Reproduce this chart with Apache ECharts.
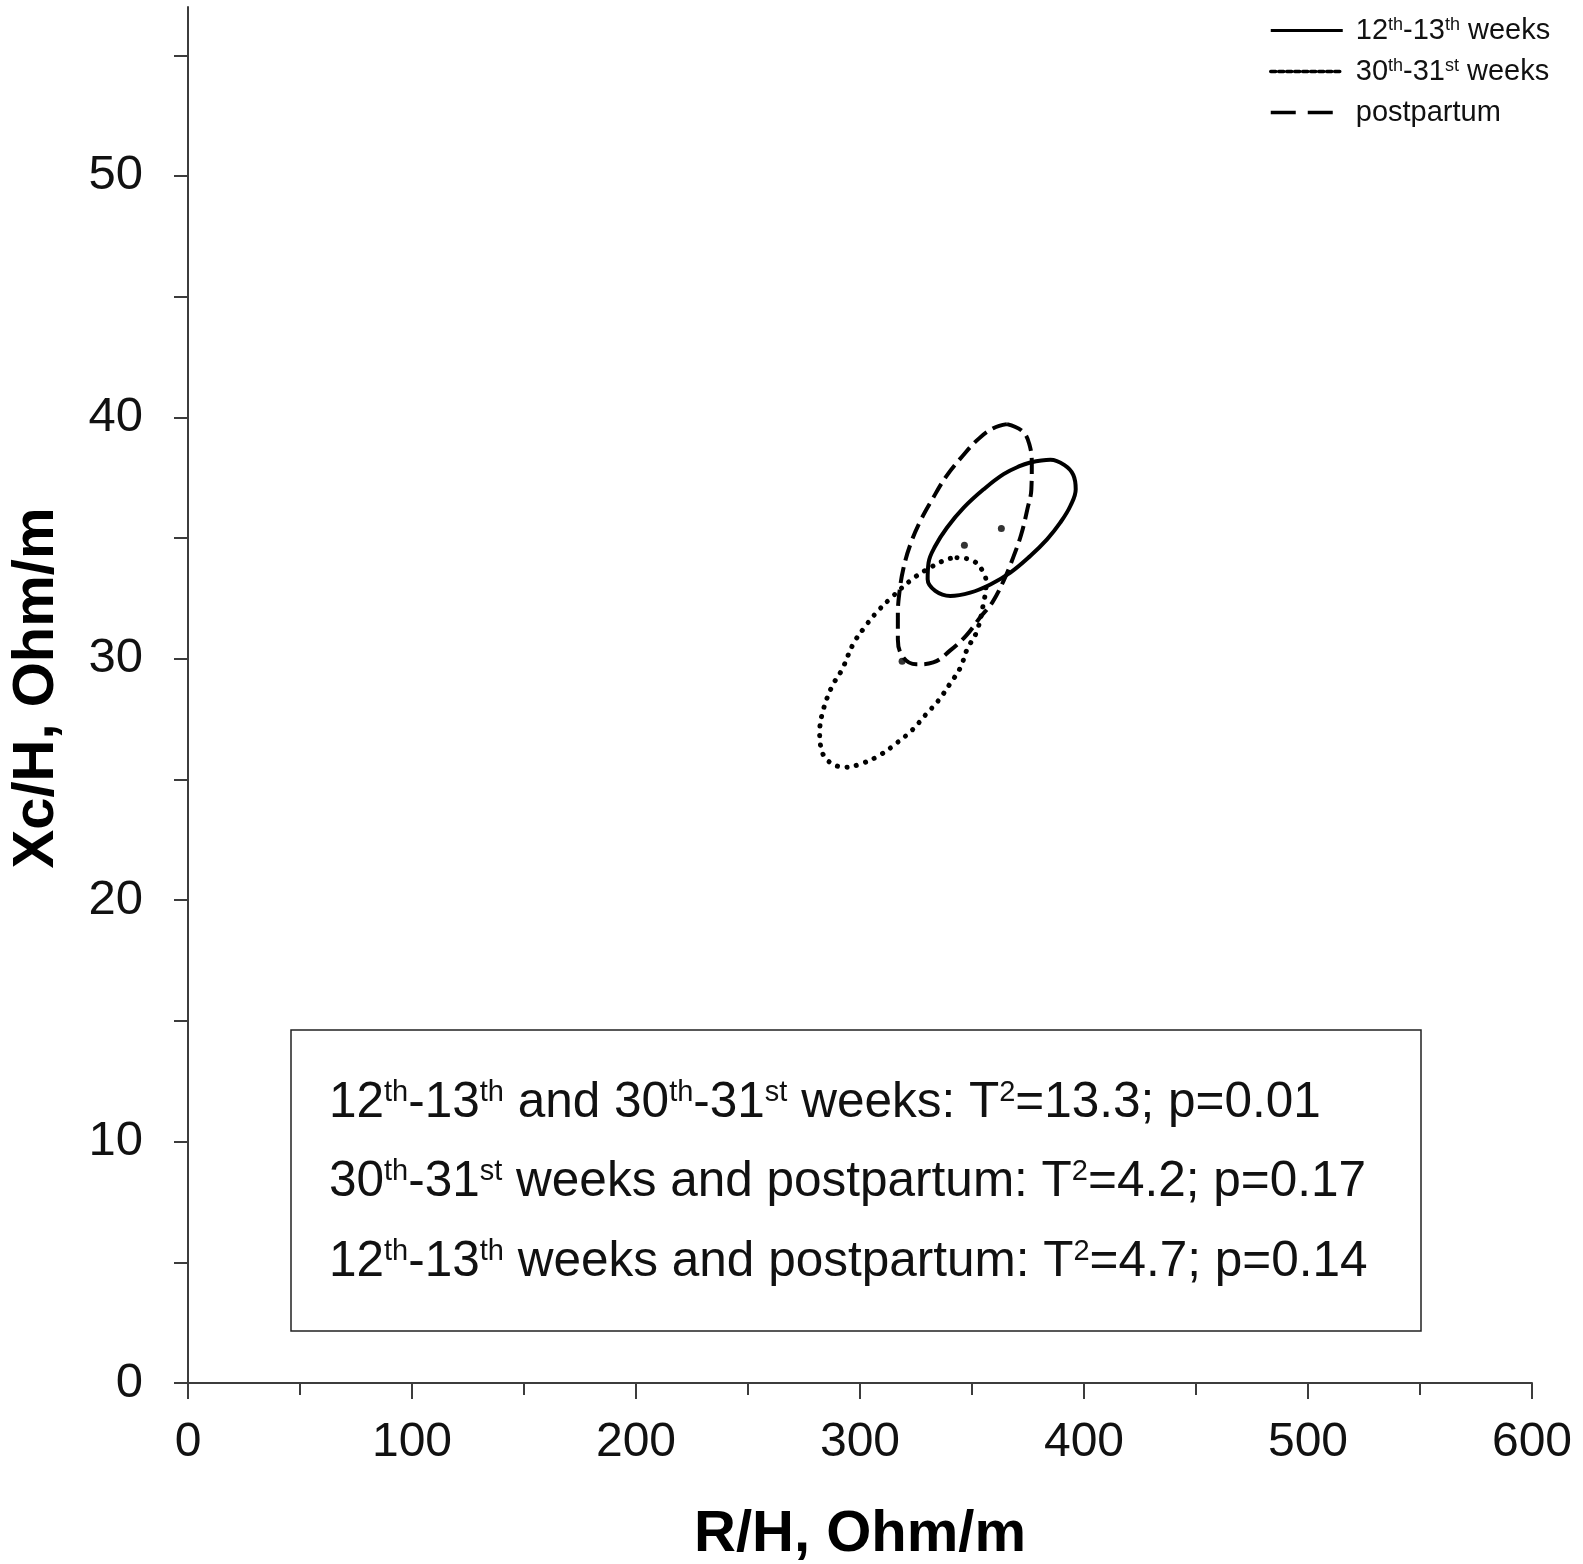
<!DOCTYPE html>
<html>
<head>
<meta charset="utf-8">
<title>R/H vs Xc/H confidence ellipses</title>
<script src="https://cdn.jsdelivr.net/npm/echarts@6/dist/echarts.min.js"></script>
<style>
  html, body { margin: 0; padding: 0; background: #fff; }
  #main { width: 1583px; height: 1564px; }
</style>
</head>
<body>
<div id="main"></div>
<script>
// ellipse outlines, [R/H, Xc/H]
var week12 = [
  [376.0, 38.13], [385.0, 38.24], [391.3, 38.02], [395.2, 37.62], [396.3, 37.02],
  [393.9, 36.33], [389.4, 35.64], [383.5, 34.95], [376.0, 34.26], [367.1, 33.57],
  [358.2, 33.08], [349.2, 32.74], [340.3, 32.60], [333.6, 32.81], [330.2, 33.29],
  [330.6, 33.98], [333.6, 34.67], [338.8, 35.43], [346.3, 36.26], [355.2, 37.02],
  [364.1, 37.65], [371.5, 37.99]
];
var week30 = [
  [343.3, 34.19], [350.7, 34.05], [355.5, 33.50], [356.3, 33.08], [355.2, 32.33],
  [352.2, 31.15], [347.8, 30.39], [344.8, 29.63], [340.0, 28.94], [335.1, 28.28],
  [329.2, 27.67], [323.2, 27.04], [316.5, 26.52], [309.4, 26.04], [301.6, 25.69],
  [293.4, 25.51], [285.5, 25.79], [282.3, 26.45], [282.0, 26.87], [283.0, 27.67],
  [287.2, 28.80], [292.0, 29.56], [296.9, 30.60], [301.6, 31.25], [307.3, 31.91],
  [313.5, 32.49], [323.2, 33.29], [330.6, 33.74], [338.8, 34.12]
];
var postpartum = [
  [365.6, 39.72], [372.5, 39.43], [375.6, 38.89], [376.7, 38.06], [376.5, 37.02],
  [374.7, 36.19], [372.0, 35.16], [368.4, 34.20], [364.0, 33.21], [359.1, 32.34],
  [353.7, 31.72], [347.5, 30.97], [340.3, 30.35], [332.7, 29.85], [325.1, 29.77],
  [319.3, 30.06], [316.9, 30.80], [316.9, 31.84], [317.5, 32.67], [319.3, 33.71],
  [322.5, 34.74], [326.9, 35.70], [332.3, 36.61], [338.5, 37.56], [345.7, 38.39],
  [352.8, 39.10], [359.5, 39.55]
];
// centroids of the three groups
var centres = [[363.1, 35.4], [346.6, 34.7], [318.8, 29.9]];

var seriesNames = ['12th-13th weeks', '30th-31st weeks', 'postpartum'];
var legendLabels = ['12{sup|th}-13{sup|th} weeks', '30{sup|th}-31{sup|st} weeks', 'postpartum'];
var xTickLabels = [0, 100, 200, 300, 400, 500, 600];
var yTicks = [0, 5, 10, 15, 20, 25, 30, 35, 40, 45, 50, 55];
var yTickLabels = [0, 10, 20, 30, 40, 50];
var statLines = [
  '12{sup|th}-13{sup|th} and 30{sup|th}-31{sup|st} weeks: T{sup|2}=13.3; p=0.01',
  '30{sup|th}-31{sup|st} weeks and postpartum: T{sup|2}=4.2; p=0.17',
  '12{sup|th}-13{sup|th} weeks and postpartum: T{sup|2}=4.7; p=0.14'
];

var FONT = '"Liberation Sans", Arial, sans-serif';
var AXIS = '#3c3c3c';

function loop(pts) { return pts.concat([pts[0]]); }

var chart = echarts.init(document.getElementById('main'));

var statText = statLines.map(function (t, i) {
  return {
    type: 'text',
    x: 329,
    y: 1103 + i * 79.5,
    style: {
      text: t,
      fill: '#111',
      fontSize: 49.5,
      fontFamily: FONT,
      verticalAlign: 'middle',
      align: 'left',
      rich: { sup: { fontSize: 29, fontFamily: FONT, verticalAlign: 'top', fill: '#111' } }
    }
  };
});

var option = {
  animation: false,
  backgroundColor: '#fff',
  grid: { left: 188, right: 51, top: 7, bottom: 181, outerBoundsMode: 'none', containLabel: false },
  legend: {
    orient: 'vertical',
    left: 1269,
    top: 16,
    padding: 0,
    itemWidth: 72,
    itemHeight: 28,
    itemGap: 12,
    align: 'left',
    itemStyle: { opacity: 0 },
    data: [
      { name: seriesNames[0], lineStyle: { width: 3, type: 'solid', color: '#000' } },
      { name: seriesNames[1], lineStyle: { width: 3.5, type: [5, 3], color: '#000' } },
      { name: seriesNames[2], lineStyle: { width: 3.5, type: [25, 12], color: '#000' } }
    ],
    formatter: function (name) { return legendLabels[seriesNames.indexOf(name)]; },
    textStyle: {
      fontSize: 29,
      fontFamily: FONT,
      color: '#111',
      padding: [0, 0, 0, 8],
      rich: { sup: { fontSize: 18, fontFamily: FONT, color: '#111', verticalAlign: 'top' } }
    }
  },
  xAxis: {
    type: 'value',
    min: 0,
    max: 600,
    interval: 100,
    name: 'R/H, Ohm/m',
    nameLocation: 'middle',
    nameGap: 123,
    nameTextStyle: { fontSize: 58, fontWeight: 'bold', fontFamily: FONT, color: '#000' },
    axisLine: { show: true, lineStyle: { color: AXIS, width: 2 } },
    axisTick: { show: true, length: 16, lineStyle: { color: AXIS, width: 2 } },
    minorTick: { show: true, splitNumber: 2, length: 12, lineStyle: { color: AXIS, width: 2 } },
    axisLabel: { fontSize: 48, fontFamily: FONT, color: '#111', margin: 36, customValues: xTickLabels },
    splitLine: { show: false }
  },
  yAxis: {
    type: 'value',
    min: 0,
    max: 57,
    name: 'Xc/H, Ohm/m',
    nameLocation: 'middle',
    nameGap: 122,
    nameTextStyle: { fontSize: 58, fontWeight: 'bold', fontFamily: FONT, color: '#000', padding: [0, 0, 0, 14] },
    axisLine: { show: true, lineStyle: { color: AXIS, width: 2 } },
    axisTick: { show: true, length: 14, customValues: yTicks, lineStyle: { color: AXIS, width: 2 } },
    axisLabel: { fontSize: 49, fontFamily: FONT, color: '#111', margin: 45, customValues: yTickLabels },
    splitLine: { show: false }
  },
  graphic: [
    {
      type: 'rect',
      shape: { x: 291, y: 1030, width: 1130, height: 301 },
      style: { fill: '#fff', stroke: '#222', lineWidth: 1.5 }
    }
  ].concat(statText),
  series: [
    {
      name: seriesNames[0],
      type: 'line',
      data: loop(week12),
      symbol: 'none',
      smooth: 0.4,
      color: '#000',
      lineStyle: { color: '#000', width: 4, type: 'solid' }
    },
    {
      name: seriesNames[1],
      type: 'line',
      data: loop(week30),
      symbol: 'none',
      smooth: 0.4,
      color: '#000',
      lineStyle: { color: '#000', width: 5, type: [0.1, 9.5], cap: 'round' }
    },
    {
      name: seriesNames[2],
      type: 'line',
      data: loop(postpartum),
      symbol: 'none',
      smooth: 0.4,
      color: '#000',
      lineStyle: { color: '#000', width: 4, type: [16, 7] }
    },
    {
      name: 'centre',
      type: 'scatter',
      data: centres,
      symbol: 'circle',
      symbolSize: 7,
      itemStyle: { color: '#000' }
    }
  ]
};

chart.setOption(option);
</script>
</body>
</html>
